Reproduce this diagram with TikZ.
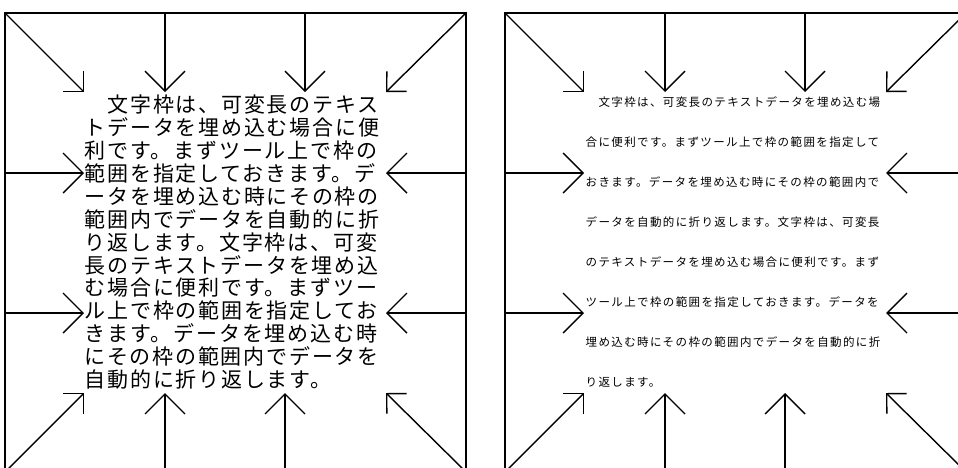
\documentclass[tikz,border=0pt]{standalone}
\usepackage{fontspec}
\usetikzlibrary{arrows.meta}
\newfontfamily\jpbig[LetterSpace=8.5]{Noto Sans CJK JP}
\newfontfamily\jpsmall[LetterSpace=12]{Noto Sans CJK JP}
\begin{document}
\begin{tikzpicture}[x=1pt,y=-1pt,line width=1.4pt,
  axarrow/.style={-{Straight Barb[length=20pt,width=40pt]}},
  diagarrow/.style={-{Straight Barb[length=14.14pt,width=28.28pt]}},
  bigtxt/.style={anchor=base west,inner sep=0pt,font=\jpbig\fontsize{21}{22}\selectfont},
  smalltxt/.style={anchor=base west,inner sep=0pt,font=\jpsmall\fontsize{11.5}{12}\selectfont}]
\path[use as bounding box] (0,0) rectangle (958,467);
\clip (0,0) rectangle (958,467);
\foreach \p/\ox in {L/0,R/500} {
  \begin{scope}[xshift=\ox pt]
    \coordinate (\p-c1) at (5,13);
    \coordinate (\p-c2) at (466,13);
    \coordinate (\p-c3) at (466,472);
    \coordinate (\p-c4) at (5,472);
    \draw (\p-c1) rectangle (\p-c3);
    % corner arrows
    \coordinate (\p-h1) at (84,92);
    \coordinate (\p-h2) at (386,92);
    \coordinate (\p-h3) at (386,393);
    \coordinate (\p-h4) at (84,393);
    \draw[diagarrow] (\p-c1) -- (\p-h1);
    \draw[diagarrow] (\p-c2) -- (\p-h2);
    \draw[diagarrow] (\p-c3) -- (\p-h3);
    \draw[diagarrow] (\p-c4) -- (\p-h4);
    % top arrows
    \coordinate (\p-t1) at (165,13); \coordinate (\p-t1h) at (165,92);
    \coordinate (\p-t2) at (305,13); \coordinate (\p-t2h) at (305,92);
    \draw[axarrow] (\p-t1) -- (\p-t1h);
    \draw[axarrow] (\p-t2) -- (\p-t2h);
    % bottom arrows
    \coordinate (\p-b1) at (165,472); \coordinate (\p-b1h) at (165,393);
    \coordinate (\p-b2) at (285,472); \coordinate (\p-b2h) at (285,393);
    \draw[axarrow] (\p-b1) -- (\p-b1h);
    \draw[axarrow] (\p-b2) -- (\p-b2h);
    % left arrows
    \coordinate (\p-l1) at (5,173); \coordinate (\p-l1h) at (84,173);
    \coordinate (\p-l2) at (5,313); \coordinate (\p-l2h) at (84,313);
    \draw[axarrow] (\p-l1) -- (\p-l1h);
    \draw[axarrow] (\p-l2) -- (\p-l2h);
    % right arrows
    \coordinate (\p-r1) at (466,173); \coordinate (\p-r1h) at (386,173);
    \coordinate (\p-r2) at (466,313); \coordinate (\p-r2h) at (386,313);
    \draw[axarrow] (\p-r1) -- (\p-r1h);
    \draw[axarrow] (\p-r2) -- (\p-r2h);
  \end{scope}
}
\foreach \t [count=\i] in {
  　文字枠は、可変長のテキス,
  トデータを埋め込む場合に便,
  利です。まずツール上で枠の,
  範囲を指定しておきます。デ,
  ータを埋め込む時にその枠の,
  範囲内でデータを自動的に折,
  り返します。文字枠は、可変,
  長のテキストデータを埋め込,
  む場合に便利です。まずツー,
  ル上で枠の範囲を指定してお,
  きます。データを埋め込む時,
  にその枠の範囲内でデータを,
  自動的に折り返します。} {
  \node[bigtxt] (L-line\i) at (84,{112.7+22.9*(\i-1)}) {\t};
}
\foreach \t [count=\i] in {
  　文字枠は、可変長のテキストデータを埋め込む場,
  合に便利です。まずツール上で枠の範囲を指定して,
  おきます。データを埋め込む時にその枠の範囲内で,
  データを自動的に折り返します。文字枠は、可変長,
  のテキストデータを埋め込む場合に便利です。まず,
  ツール上で枠の範囲を指定しておきます。データを,
  埋め込む時にその枠の範囲内でデータを自動的に折,
  り返します。} {
  \node[smalltxt] (R-line\i) at (585,{106.4+40*(\i-1)}) {\t};
}
\end{tikzpicture}
\end{document}
